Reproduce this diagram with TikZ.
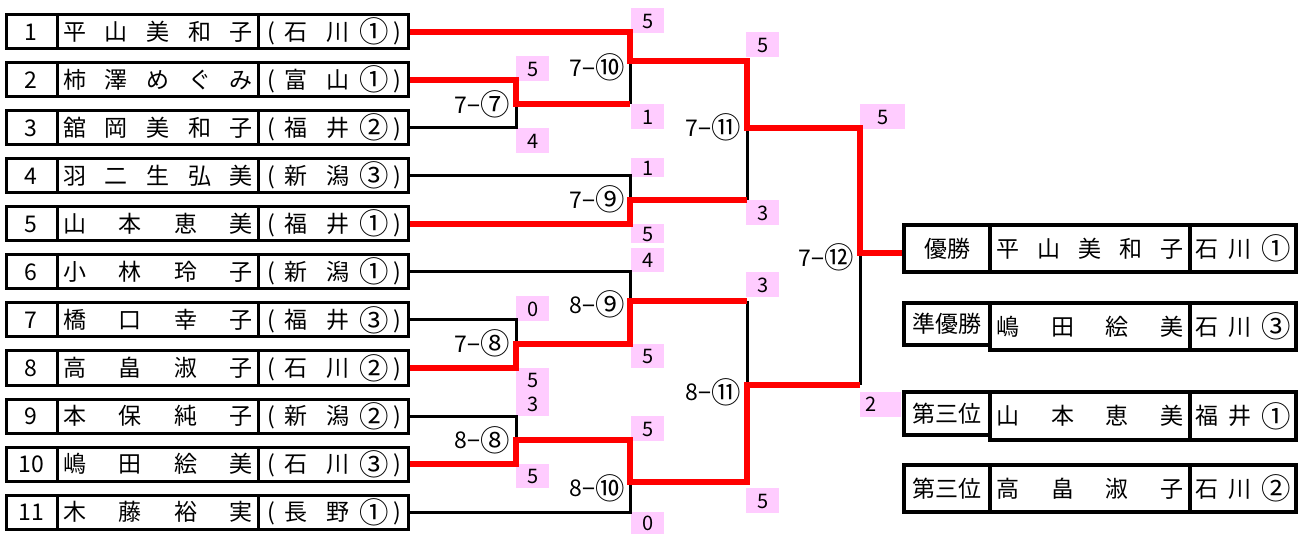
\documentclass[tikz,border=0pt]{standalone}
\usepackage{fontspec}
\usepackage{graphicx}
\setmainfont{Noto Sans CJK JP}
\newfontfamily\latinfont{Liberation Sans}
\definecolor{scorepink}{HTML}{FFCCFF}
\newcommand\cn[1]{\raisebox{-2.4pt}{\scalebox{1.28}{#1}}}
\tikzset{
 rowbox/.style={draw, line width=3pt, minimum width=402pt, minimum height=34pt, inner sep=0pt},
 cellrule/.style={line width=3pt},
 txt/.style={inner sep=0pt, text height=17.2pt, text depth=0pt, font=\fontsize{23pt}{25pt}\selectfont},
 lbl/.style={txt, anchor=east},
 sc/.style={fill=scorepink, minimum width=33pt, inner sep=0pt, anchor=north west, text height=14.7pt, text depth=0pt, font=\fontsize{20pt}{22pt}\selectfont},
 sctxt/.style={inner sep=0pt, text height=14.7pt, text depth=0pt, font=\fontsize{20pt}{22pt}\selectfont},
 lose/.style={line width=3pt, black},
 win/.style={line width=6pt, red},
 rescell/.style={draw, line width=4.5pt, inner sep=0pt, text height=17.2pt, text depth=0pt, font=\fontsize{23pt}{25pt}\selectfont},
}
\newcommand\entry[7]{%
 \node[rowbox] (r#1) at (207.5,#2) {};
 \draw[cellrule] (57,#2-17) -- (57,#2+17);
 \draw[cellrule] (258,#2-17) -- (258,#2+17);
 \node[txt] (no#1) at (31,#2) {#3};
 \node[txt] (nm#1) at (158,#2) {\makebox[189pt]{#4}};
 \node[txt] (pa#1) at (271,#2) {(};
 \node[txt] (pb#1) at (296,#2) {#5};
 \node[txt] (pc#1) at (338,#2) {#6};
 \node[txt] (pd#1) at (374,#2) {\cn{#7}};
 \node[txt] (pe#1) at (397,#2) {)};
}
\newcommand\scr[5]{\node[sc, minimum height=#4pt] (#1) at (#2,#3) {#5};}
\begin{document}
\begin{tikzpicture}[x=1pt,y=-1pt]
\useasboundingbox (0,0) rectangle (1306,534);
% entries
\entry{1}{32}{1}{平\hfill 山\hfill 美\hfill 和\hfill 子}{石}{川}{①}
\entry{2}{80}{2}{柿\hfill 澤\hfill め\hfill ぐ\hfill み}{富}{山}{①}
\entry{3}{128}{3}{舘\hfill 岡\hfill 美\hfill 和\hfill 子}{福}{井}{②}
\entry{4}{176}{4}{羽\hfill 二\hfill 生\hfill 弘\hfill 美}{新}{潟}{③}
\entry{5}{224}{5}{山\hfill 本\hfill 恵\hfill 美}{福}{井}{①}
\entry{6}{272}{6}{小\hfill 林\hfill 玲\hfill 子}{新}{潟}{①}
\entry{7}{320}{7}{橋\hfill 口\hfill 幸\hfill 子}{福}{井}{③}
\entry{8}{368}{8}{高\hfill 畠\hfill 淑\hfill 子}{石}{川}{②}
\entry{9}{416}{9}{本\hfill 保\hfill 純\hfill 子}{新}{潟}{②}
\entry{10}{464}{10}{嶋\hfill 田\hfill 絵\hfill 美}{石}{川}{③}
\entry{11}{512}{11}{木\hfill 藤\hfill 裕\hfill 実}{長}{野}{①}
% score boxes
\scr{s1}{516}{56}{25}{5}
\scr{s2}{516}{128}{25}{4}
\scr{s3}{631}{8}{25}{5}
\scr{s4}{631}{104}{25}{1}
\scr{s5}{631}{158}{19}{1}
\scr{s6}{631}{224}{19}{5}
\scr{s7}{631}{248}{24}{4}
\scr{s8}{631}{344}{24}{5}
\scr{s9}{516}{296}{25}{0}
\scr{s10}{516}{368}{24}{5}
\scr{s11}{516}{392}{24}{3}
\scr{s12}{516}{464}{24}{5}
\scr{s13}{631}{416}{25}{5}
\scr{s14}{631}{512}{22}{0}
\scr{s15}{746}{32}{25}{5}
\scr{s16}{746}{200}{25}{3}
\scr{s17}{746}{272}{25}{3}
\scr{s18}{746}{488}{25}{5}
\node[sc, minimum width=45pt, minimum height=25pt] (s19) at (860,104) {5};
\node[sc, minimum width=41pt, minimum height=25pt] (s20) at (860,392) {};
\node[sctxt, anchor=west] (s20t) at (865,404.5) {2};
% match junctions
\coordinate (o77) at (516,104);
\coordinate (o78) at (516,344);
\coordinate (o88) at (516,440);
\coordinate (o710) at (630,61);
\coordinate (o79) at (630,200);
\coordinate (o89) at (630,301);
\coordinate (o810) at (630,482);
\coordinate (o711) at (747,128);
\coordinate (o811) at (747,385);
\coordinate (o712) at (860,253);
% match labels
\node[lbl] (m77) at (510,105) {7{\latinfont −}\cn{⑦}};
\node[lbl] (m710) at (625,68) {7{\latinfont −}\cn{⑩}};
\node[lbl] (m79) at (625,200) {7{\latinfont −}\cn{⑨}};
\node[lbl] (m711) at (741,128) {7{\latinfont −}\cn{⑪}};
\node[lbl] (m78) at (510,344) {7{\latinfont −}\cn{⑧}};
\node[lbl] (m89) at (625,305) {8{\latinfont −}\cn{⑨}};
\node[lbl] (m88) at (510,440) {8{\latinfont −}\cn{⑧}};
\node[lbl] (m810) at (625,488) {8{\latinfont −}\cn{⑩}};
\node[lbl] (m811) at (741,392) {8{\latinfont −}\cn{⑪}};
\node[lbl] (m712) at (854,258) {7{\latinfont −}\cn{⑫}};
% result boxes
\node[rescell, minimum width=86pt, minimum height=47pt] (champ) at (947,248.5) {優勝};
\node[rescell, minimum width=200pt, minimum height=47pt] (champn) at (1090,248.5) {\makebox[187pt]{平\hfill 山\hfill 美\hfill 和\hfill 子}};
\node[rescell, minimum width=106pt, minimum height=47pt] (champp) at (1243,248.5) {\makebox[96pt]{石\hfill 川\hfill \cn{①}}};
\node[rescell, minimum width=86pt, minimum height=42pt] (second) at (947,324) {準優勝};
\node[rescell, minimum width=200pt, minimum height=47pt] (secondn) at (1090,326.5) {\makebox[187pt]{嶋\hfill 田\hfill 絵\hfill 美}};
\node[rescell, minimum width=106pt, minimum height=47pt] (secondp) at (1243,326.5) {\makebox[96pt]{石\hfill 川\hfill \cn{③}}};
\node[rescell, minimum width=86pt, minimum height=43pt] (thirda) at (947,413.5) {第三位};
\node[rescell, minimum width=200pt, minimum height=48pt] (thirdan) at (1090,416) {\makebox[187pt]{山\hfill 本\hfill 恵\hfill 美}};
\node[rescell, minimum width=106pt, minimum height=48pt] (thirdap) at (1243,416) {\makebox[96pt]{福\hfill 井\hfill \cn{①}}};
\node[rescell, minimum width=86pt, minimum height=47pt] (thirdb) at (947,488.5) {第三位};
\node[rescell, minimum width=200pt, minimum height=47pt] (thirdbn) at (1090,488.5) {\makebox[187pt]{高\hfill 畠\hfill 淑\hfill 子}};
\node[rescell, minimum width=106pt, minimum height=47pt] (thirdbp) at (1243,488.5) {\makebox[96pt]{石\hfill 川\hfill \cn{②}}};
% losing lines
\draw[lose] (r3.east) -| (o77);
\draw[lose] (o77 -| o710) -- (o710);
\draw[lose] (r4.east) -| (o79);
\draw[lose] (o79 -| o711) -- (o711);
\draw[lose] (r6.east) -| (o89);
\draw[lose] (r7.east) -| (o78);
\draw[lose] (r9.east) -| (o88);
\draw[lose] (r11.east) -| (o810);
\draw[lose] (o89 -| o811) -- (o811);
\draw[lose] (o811 -| o712) -- (o712);
% winning lines
\draw[win] (r2.east) -| (o77) -- (o77 -| o710);
\draw[win] (r5.east) -| (o79) -- (o79 -| o711);
\draw[win] (r8.east) -| (o78) -| (o89) -- (o89 -| o811);
\draw[win] (r10.east) -| (o88) -| (o810) -| (o811) -- (o811 -| o712);
\draw[win] (r1.east) -| (o710) -| (o711) -| (o712) -- (o712 -| champ.west);
\end{tikzpicture}
\end{document}
